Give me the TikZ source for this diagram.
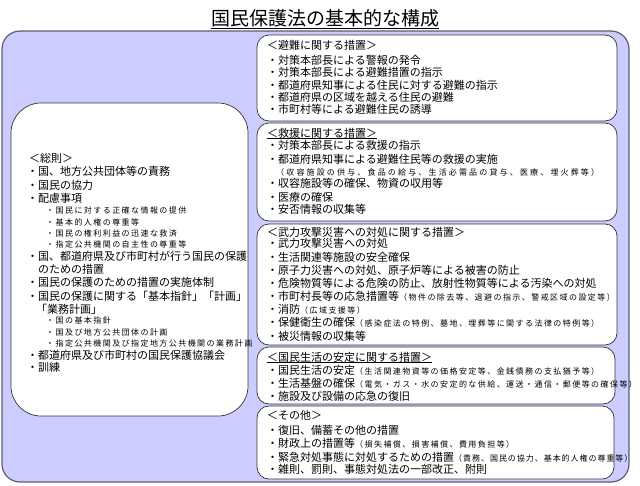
\documentclass[tikz,border=0pt]{standalone}
\usepackage{fontspec}
\setmainfont{Noto Sans CJK JP}
\newfontfamily\smallfont[LetterSpace=18]{Noto Sans CJK JP}
\newfontfamily\tightfont[LetterSpace=12]{Noto Sans CJK JP}
\newfontfamily\widefont[LetterSpace=27]{Noto Sans CJK JP}
\newcommand{\smtxt}[1]{{\smallfont\fontsize{8}{10}\selectfont #1}}
\newcommand{\tighttxt}[1]{{\tightfont\fontsize{8}{10}\selectfont #1}}
\definecolor{lav}{HTML}{CCCCFF}
\definecolor{outerline}{HTML}{5E5E70}
\tikzset{
  ln/.style={anchor=base west, inner sep=0pt, font=\fontsize{11}{13}\selectfont},
  sm/.style={anchor=base west, inner sep=0pt, font=\smallfont\fontsize{8}{10}\selectfont},
  wide/.style={anchor=base west, inner sep=0pt, font=\widefont\fontsize{8}{10}\selectfont},
  rbox/.style={draw=black!80, fill=white, line width=0.7pt, rounded corners=12pt},
  lbox/.style={draw=black!80, fill=white, line width=0.7pt, rounded corners=30pt},
  outer/.style={draw=outerline, fill=lav, line width=1.2pt, rounded corners=18pt},
  uline/.style={draw=black, line width=0.7pt},
}
\begin{document}
\begin{tikzpicture}[x=1pt,y=-1pt]
\useasboundingbox (0,0) rectangle (640,485);
\fill[white] (0,0) rectangle (640,485);
% title
\node[inner sep=0pt, font=\fontsize{19}{22}\selectfont] (title) at (325,18) {国民保護法の基本的な構成};
\draw[uline] ([yshift=-1.5pt]title.south west) -- ([yshift=-1.5pt]title.south east);
% frames
\draw[outer] (2,31) rectangle (629,482);
\draw[lbox] (11,103) rectangle (248,416);
\draw[rbox] (257,35) rectangle (617,121);
\draw[rbox] (257,123) rectangle (617,221);
\draw[rbox] (257,224) rectangle (617,345);
\draw[rbox] (257,347) rectangle (615,404);
\draw[rbox] (257,406) rectangle (614,479);
% left box
\node[ln] (s0) at (29,162) {＜総則＞};
\node[ln] (s1) at (27,175) {・国、地方公共団体等の責務};
\node[ln] (s2) at (27,189) {・国民の協力};
\node[ln] (s3) at (27,202) {・配慮事項};
\node[sm] (s4) at (46,213) {・国民に対する正確な情報の提供};
\node[sm] (s5) at (46,225) {・基本的人権の尊重等};
\node[sm] (s6) at (46,236) {・国民の権利利益の迅速な救済};
\node[sm] (s7) at (46,247) {・指定公共機関の自主性の尊重等};
\node[ln] (s8) at (27,260) {・国、都道府県及び市町村が行う国民の保護};
\node[ln] (s9) at (38,273) {のための措置};
\node[ln] (s10) at (27,286) {・国民の保護のための措置の実施体制};
\node[ln] (s11) at (27,300) {・国民の保護に関する「基本指針」「計画」};
\node[ln] (s12) at (36,313) {「業務計画」};
\node[sm] (s13) at (46,323) {・国の基本指針};
\node[sm] (s14) at (46,335) {・国及び地方公共団体の計画};
\node[sm] (s15) at (46,346) {・指定公共機関及び指定地方公共機関の業務計画};
\node[ln] (s16) at (27,359) {・都道府県及び市町村の国民保護協議会};
\node[ln] (s17) at (27,371) {・訓練};
% box 1
\node[ln] (a0) at (267,49) {＜避難に関する措置＞};
\node[ln] (a1) at (267,64) {・対策本部長による警報の発令};
\node[ln] (a2) at (267,76) {・対策本部長による避難措置の指示};
\node[ln] (a3) at (267,89) {・都道府県知事による住民に対する避難の指示};
\node[ln] (a4) at (267,101) {・都道府県の区域を越える住民の避難};
\node[ln] (a5) at (267,113) {・市町村等による避難住民の誘導};
% box 2
\node[ln] (b0) at (267,137) {＜救援に関する措置＞};
\draw[uline] ([yshift=-0.5pt]b0.south west) -- ([yshift=-0.5pt]b0.south east);
\node[ln] (b1) at (267,149) {・対策本部長による救援の指示};
\node[ln] (b2) at (267,163) {・都道府県知事による避難住民等の救援の実施};
\node[wide] (b3) at (276,175) {（収容施設の供与、食品の給与、生活必需品の貸与、医療、埋火葬等）};
\node[ln] (b4) at (267,187) {・収容施設等の確保、物資の収用等};
\node[ln] (b5) at (267,201) {・医療の確保};
\node[ln] (b6) at (267,213) {・安否情報の収集等};
% box 3
\node[ln] (c0) at (267,236) {＜武力攻撃災害への対処に関する措置＞};
\node[ln] (c1) at (267,247) {・武力攻撃災害への対処};
\node[ln] (c2) at (267,261) {・生活関連等施設の安全確保};
\node[ln] (c3) at (267,274) {・原子力災害への対処、原子炉等による被害の防止};
\node[ln] (c4) at (267,287) {・危険物質等による危険の防止、放射性物質等による汚染への対処};
\node[ln] (c5) at (267,300) {・市町村長等の応急措置等\smtxt{（物件の除去等、退避の指示、警戒区域の設定等）}};
\node[ln] (c6) at (267,313) {・消防\smtxt{（広域支援等）}};
\node[ln] (c7) at (267,326) {・保健衛生の確保\smtxt{（感染症法の特例、墓地、埋葬等に関する法律の特例等）}};
\node[ln] (c8) at (267,340) {・被災情報の収集等};
% box 4
\node[ln] (d0) at (267,361) {＜国民生活の安定に関する措置＞};
\draw[uline] ([yshift=-0.5pt]d0.south west) -- ([yshift=-0.5pt]d0.south east);
\node[ln] (d1) at (267,374) {・国民生活の安定\smtxt{（生活関連物資等の価格安定等、金銭債務の支払猶予等）}};
\node[ln] (d2) at (267,387) {・生活基盤の確保\smtxt{（電気・ガス・水の安定的な供給、運送・通信・郵便等の確保等）}};
\node[ln] (d3) at (267,400) {・施設及び設備の応急の復旧};
% box 5
\node[ln] (e0) at (267,419) {＜その他＞};
\node[ln] (e1) at (267,434) {・復旧、備蓄その他の措置};
\node[ln] (e2) at (267,447) {・財政上の措置等\smtxt{（損失補償、損害補償、費用負担等）}};
\node[ln] (e3) at (267,461) {・緊急対処事態に対処するための措置\tighttxt{（責務、国民の協力、基本的人権の尊重等）}};
\node[ln] (e4) at (267,473) {・雑則、罰則、事態対処法の一部改正、附則};
\end{tikzpicture}
\end{document}
